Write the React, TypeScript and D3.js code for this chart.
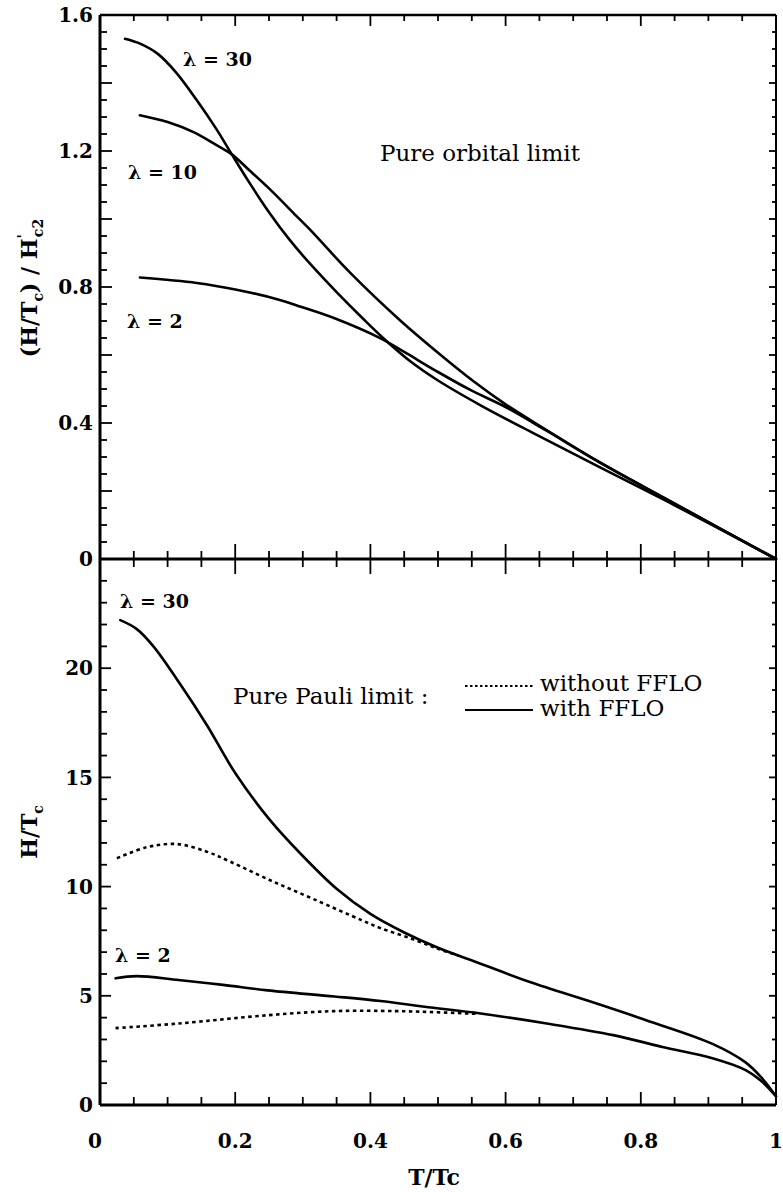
import React from "react";
import * as d3 from "d3";

type Pt = [number, number];

// top panel: pure orbital limit, (H/Tc)/H'c2 vs T/Tc
const orbital30: Pt[] = [[0.037,1.53],[0.06,1.515],[0.086,1.485],[0.113,1.43],[0.143,1.35],[0.172,1.265],[0.195,1.19],[0.22,1.11],[0.25,1.02],[0.28,0.94],[0.31,0.87],[0.35,0.785],[0.39,0.705],[0.42,0.648],[0.46,0.58],[0.5,0.525],[0.563,0.452],[0.641,0.37],[0.739,0.27],[0.85,0.158],[1,0]];
const orbital10: Pt[] = [[0.059,1.305],[0.1,1.285],[0.14,1.254],[0.17,1.22],[0.195,1.19],[0.22,1.145],[0.25,1.09],[0.29,1.01],[0.31,0.97],[0.371,0.84],[0.445,0.7],[0.504,0.6],[0.553,0.522],[0.6,0.455],[0.66,0.38],[0.739,0.285],[0.85,0.163],[1,0]];
const orbital2: Pt[] = [[0.059,0.828],[0.143,0.812],[0.202,0.792],[0.266,0.762],[0.297,0.742],[0.347,0.708],[0.415,0.649],[0.45,0.609],[0.5,0.55],[0.55,0.495],[0.6,0.447],[0.66,0.378],[0.739,0.284],[0.85,0.163],[1,0]];

// bottom panel: pure Pauli limit, H/Tc vs T/Tc
const pauli30With: Pt[] = [[0.03,22.2],[0.054,21.8],[0.079,21.0],[0.118,19.3],[0.158,17.4],[0.2,15.2],[0.25,13.1],[0.3,11.4],[0.35,9.9],[0.4,8.75],[0.45,7.9],[0.5,7.2],[0.563,6.47],[0.636,5.63],[0.729,4.7],[0.808,3.88],[0.906,2.8],[0.955,1.95],[0.98,1.2],[1,0.4]];
const pauli30Without: Pt[] = [[0.025,11.3],[0.069,11.8],[0.113,11.95],[0.158,11.6],[0.192,11.15],[0.251,10.3],[0.315,9.44],[0.388,8.45],[0.415,8.1],[0.462,7.6],[0.5,7.15],[0.53,6.85]];
const pauli2With: Pt[] = [[0.023,5.8],[0.054,5.9],[0.116,5.72],[0.182,5.5],[0.248,5.25],[0.347,4.97],[0.415,4.76],[0.48,4.5],[0.563,4.19],[0.661,3.73],[0.759,3.2],[0.832,2.66],[0.906,2.14],[0.955,1.6],[0.98,1.05],[1,0.4]];
const pauli2Without: Pt[] = [[0.023,3.52],[0.116,3.73],[0.248,4.11],[0.347,4.3],[0.437,4.3],[0.487,4.26],[0.56,4.17]];

const xTicks = [0, 0.2, 0.4, 0.6, 0.8, 1];
const xTickLabels = ["0", "0.2", "0.4", "0.6", "0.8", "1"];
const yTopTicks = [0, 0.4, 0.8, 1.2, 1.6];
const yTopLabels = ["0", "0.4", "0.8", "1.2", "1.6"];
const yBotTicks = [0, 5, 10, 15, 20];
const yBotLabels = ["0", "5", "10", "15", "20"];

const W = 783, H = 1192;
const X0 = 100, X1 = 776;
const TOP = 15, MID = 559, BOT = 1105;
const numFont = "'DejaVu Serif', serif";
const txtFont = "'DejaVu Serif', serif";

export default function App() {
  const x = d3.scaleLinear().domain([0, 1]).range([X0, X1]);
  const yTop = d3.scaleLinear().domain([0, 1.6]).range([MID, TOP]);
  const yBot = d3.scaleLinear().domain([0, 25]).range([BOT, MID]);

  const curve = d3.curveCatmullRom.alpha(0.5);
  const lineTop = d3.line<Pt>().x(d => x(d[0])).y(d => yTop(d[1])).curve(curve);
  const lineBot = d3.line<Pt>().x(d => x(d[0])).y(d => yBot(d[1])).curve(curve);

  const isMult = (v: number, step: number) => Math.abs(v / step - Math.round(v / step)) < 1e-6;
  const xMinor = d3.range(0.05, 1.0, 0.05);
  const yTopMinor = d3.range(0.05, 1.6, 0.05);
  const yBotMinor = d3.range(1, 25, 1);

  const tk = { stroke: "#000", strokeWidth: 1.8 };

  return (
    <svg width={W} height={H} style={{ position: "absolute", left: 0, top: 0, background: "#fff" }}>
      {/* frame */}
      <g stroke="#000" strokeWidth={2.6} fill="none">
        <line x1={X0} x2={X1} y1={TOP} y2={TOP} />
        <line x1={X0} x2={X1} y1={MID} y2={MID} strokeWidth={3} />
        <line x1={X0} x2={X1} y1={BOT} y2={BOT} strokeWidth={3} />
        <line x1={X0} x2={X0} y1={TOP} y2={BOT} strokeWidth={3} />
        <line x1={X1} x2={X1} y1={TOP} y2={BOT} strokeWidth={2} />
      </g>

      {/* x ticks */}
      <g>
        {xMinor.map((t, i) => {
          const major = isMult(t, 0.2);
          const xx = x(t);
          return (
            <g key={i}>
              <line {...tk} x1={xx} x2={xx} y1={TOP} y2={TOP + (major ? 11 : 6)} />
              <line {...tk} x1={xx} x2={xx} y1={MID - (major ? 15 : 8)} y2={MID + (major ? 15 : 8)} />
              <line {...tk} x1={xx} x2={xx} y1={BOT} y2={BOT - (major ? 13 : 8)} />
            </g>
          );
        })}
      </g>

      {/* y ticks */}
      <g>
        {yTopMinor.map((v, i) => {
          const major = isMult(v, 0.2);
          const yy = yTop(v);
          return (
            <g key={i}>
              <line {...tk} x1={X0} x2={X0 + (major ? 12 : 7)} y1={yy} y2={yy} />
              <line {...tk} x1={X1} x2={X1 - (major ? 7 : 4)} y1={yy} y2={yy} />
            </g>
          );
        })}
        {yBotMinor.map((v, i) => {
          const major = isMult(v, 5);
          const yy = yBot(v);
          return (
            <g key={"b" + i}>
              <line {...tk} x1={X0} x2={X0 + (major ? 11 : 7)} y1={yy} y2={yy} />
              <line {...tk} x1={X1} x2={X1 - (major ? 7 : 4)} y1={yy} y2={yy} />
            </g>
          );
        })}
      </g>

      {/* tick labels */}
      <g fontFamily={numFont} fontWeight="bold" fontSize={20} fill="#000">
        {yTopTicks.map((v, i) => (
          <text key={i} x={X0 - 7} y={yTop(v)} dy="0.36em" textAnchor="end">{yTopLabels[i]}</text>
        ))}
        {yBotTicks.map((v, i) => (
          <text key={"b" + i} x={X0 - 7} y={yBot(v)} dy="0.36em" textAnchor="end">{yBotLabels[i]}</text>
        ))}
        {xTicks.map((t, i) => (
          <text key={"x" + i} x={x(t) - (i === 0 ? 5 : 0)} y={1148} textAnchor="middle">{xTickLabels[i]}</text>
        ))}
      </g>

      {/* curves */}
      <g fill="none" stroke="#000" strokeWidth={2.6} strokeLinejoin="round" strokeLinecap="round">
        <path d={lineTop(orbital30) || ""} />
        <path d={lineTop(orbital10) || ""} />
        <path d={lineTop(orbital2) || ""} />
        <path d={lineBot(pauli30With) || ""} />
        <path d={lineBot(pauli2With) || ""} />
        <path d={lineBot(pauli30Without) || ""} strokeDasharray="3.5 3.5" strokeLinecap="butt" />
        <path d={lineBot(pauli2Without) || ""} strokeDasharray="3.5 3.5" strokeLinecap="butt" />
      </g>

      {/* curve labels */}
      <g fontFamily={numFont} fontWeight="bold" fontSize={19} fill="#000">
        <text x={183} y={66}>λ = 30</text>
        <text x={128} y={179}>λ = 10</text>
        <text x={127} y={328}>λ = 2</text>
        <text x={120} y={608}>λ = 30</text>
        <text x={115} y={962}>λ = 2</text>
      </g>

      {/* annotations */}
      <g fontFamily={txtFont} fontSize={23} fill="#000">
        <text x={380} y={161}>Pure orbital limit</text>
        <text x={233} y={704}>Pure Pauli limit :</text>
        <text x={540} y={691}>without FFLO</text>
        <text x={540} y={716}>with FFLO</text>
      </g>
      <g stroke="#000" fill="none">
        <line x1={465} x2={533} y1={686} y2={686} strokeWidth={1.8} strokeDasharray="2.5 2.5" />
        <line x1={465} x2={533} y1={710} y2={710} strokeWidth={2} />
      </g>

      {/* axis titles */}
      <g fontFamily={numFont} fontWeight="bold" fontSize={22} fill="#000">
        <text x={434} y={1185} textAnchor="middle">T/Tc</text>
        <text transform="translate(37,288) rotate(-90)" textAnchor="middle">
          (H/T<tspan dy={6} fontSize={14}>c</tspan>
          <tspan dy={-6}>) / H</tspan>
          <tspan dy={-9} fontSize={14}>'</tspan>
          <tspan dy={15} dx={-3} fontSize={14}>c2</tspan>
        </text>
        <text transform="translate(37,832) rotate(-90)" textAnchor="middle">
          H/T<tspan dy={6} fontSize={14}>c</tspan>
        </text>
      </g>
    </svg>
  );
}
